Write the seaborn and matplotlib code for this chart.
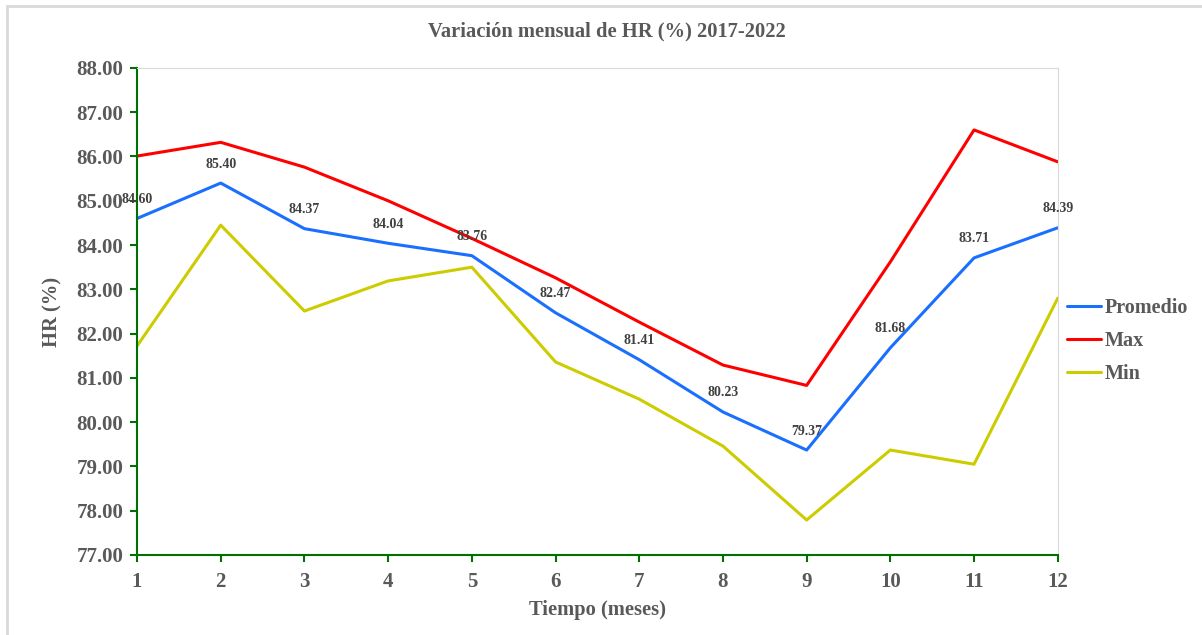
import pandas as pd
import matplotlib.pyplot as plt
import seaborn as sns
from matplotlib.patches import Rectangle

# monthly relative humidity 2017-2022
meses = [1, 2, 3, 4, 5, 6, 7, 8, 9, 10, 11, 12]
promedio = [84.60, 85.40, 84.37, 84.04, 83.76, 82.47, 81.41, 80.23, 79.37, 81.68, 83.71, 84.39]
maximo = [86.01, 86.32, 85.76, 85.00, 84.15, 83.26, 82.26, 81.29, 80.83, 83.62, 86.60, 85.88]
minimo = [81.72, 84.45, 82.51, 83.19, 83.50, 81.36, 80.52, 79.46, 77.79, 79.37, 79.05, 82.80]

df = pd.DataFrame({"Mes": meses, "Promedio": promedio, "Max": maximo, "Min": minimo})
long = df.melt(id_vars="Mes", var_name="Serie", value_name="HR")

sns.set_style("white")
plt.rcParams["font.family"] = ["Liberation Serif", "DejaVu Serif"]
plt.rcParams["font.weight"] = "bold"

gris = "#595959"
verde = "#007000"
colores = {"Promedio": "#1A6FFF", "Max": "#FF0000", "Min": "#CCCC00"}

fig = plt.figure(figsize=(12.02, 6.35), dpi=100)
# light frame of the chart area (open at right/bottom like the original crop)
fig.add_artist(Rectangle((7 / 1202, -0.1), 1.2, 1.1 - 6 / 635, transform=fig.transFigure,
                         fill=False, edgecolor="#D9D9D9", linewidth=2, clip_on=False))
ax = fig.add_axes([0.114, 0.126, 0.766, 0.767])

sns.lineplot(data=long, x="Mes", y="HR", hue="Serie", palette=colores,
             linewidth=2.2, ax=ax)

for x, y in zip(meses, promedio):
    ax.annotate(f"{y:.2f}", (x, y), xytext=(0, 9), textcoords="offset points",
                ha="center", va="bottom", fontsize=10, fontweight="bold", color="#404040")

ax.set_xlim(1, 12)
ax.set_ylim(77, 88)
ax.set_xticks(meses)
ax.set_yticks(range(77, 89))
ax.set_yticklabels([f"{v:.2f}" for v in range(77, 89)])
ax.tick_params(axis="both", labelsize=15, labelcolor=gris, color=verde, length=5, width=1.5,
               direction="out", left=True, bottom=True)
ax.tick_params(axis="x", pad=7)
ax.tick_params(axis="y", pad=5)
for lab in ax.get_xticklabels() + ax.get_yticklabels():
    lab.set_fontweight("bold")

ax.spines["left"].set_color(verde)
ax.spines["bottom"].set_color(verde)
ax.spines["left"].set_linewidth(1.5)
ax.spines["bottom"].set_linewidth(1.5)
ax.spines["top"].set_color("#D9D9D9")
ax.spines["right"].set_color("#D9D9D9")

ax.set_xlabel("Tiempo (meses)", fontsize=14.8, fontweight="bold", color=gris, labelpad=6)
ax.set_ylabel("HR (%)", fontsize=14.8, fontweight="bold", color=gris, labelpad=10)
fig.text(0.505, 0.951, "Variación mensual de HR (%) 2017-2022", ha="center", va="center",
         fontsize=14.8, fontweight="bold", color=gris)

leg = ax.legend(loc="center left", bbox_to_anchor=(0.99, 0.44), frameon=False,
                fontsize=14.5, handlelength=1.7, handletextpad=0.2, labelspacing=0.65)
for t in leg.get_texts():
    t.set_color(gris)
    t.set_fontweight("bold")

fig.savefig("out.png", dpi=100)
